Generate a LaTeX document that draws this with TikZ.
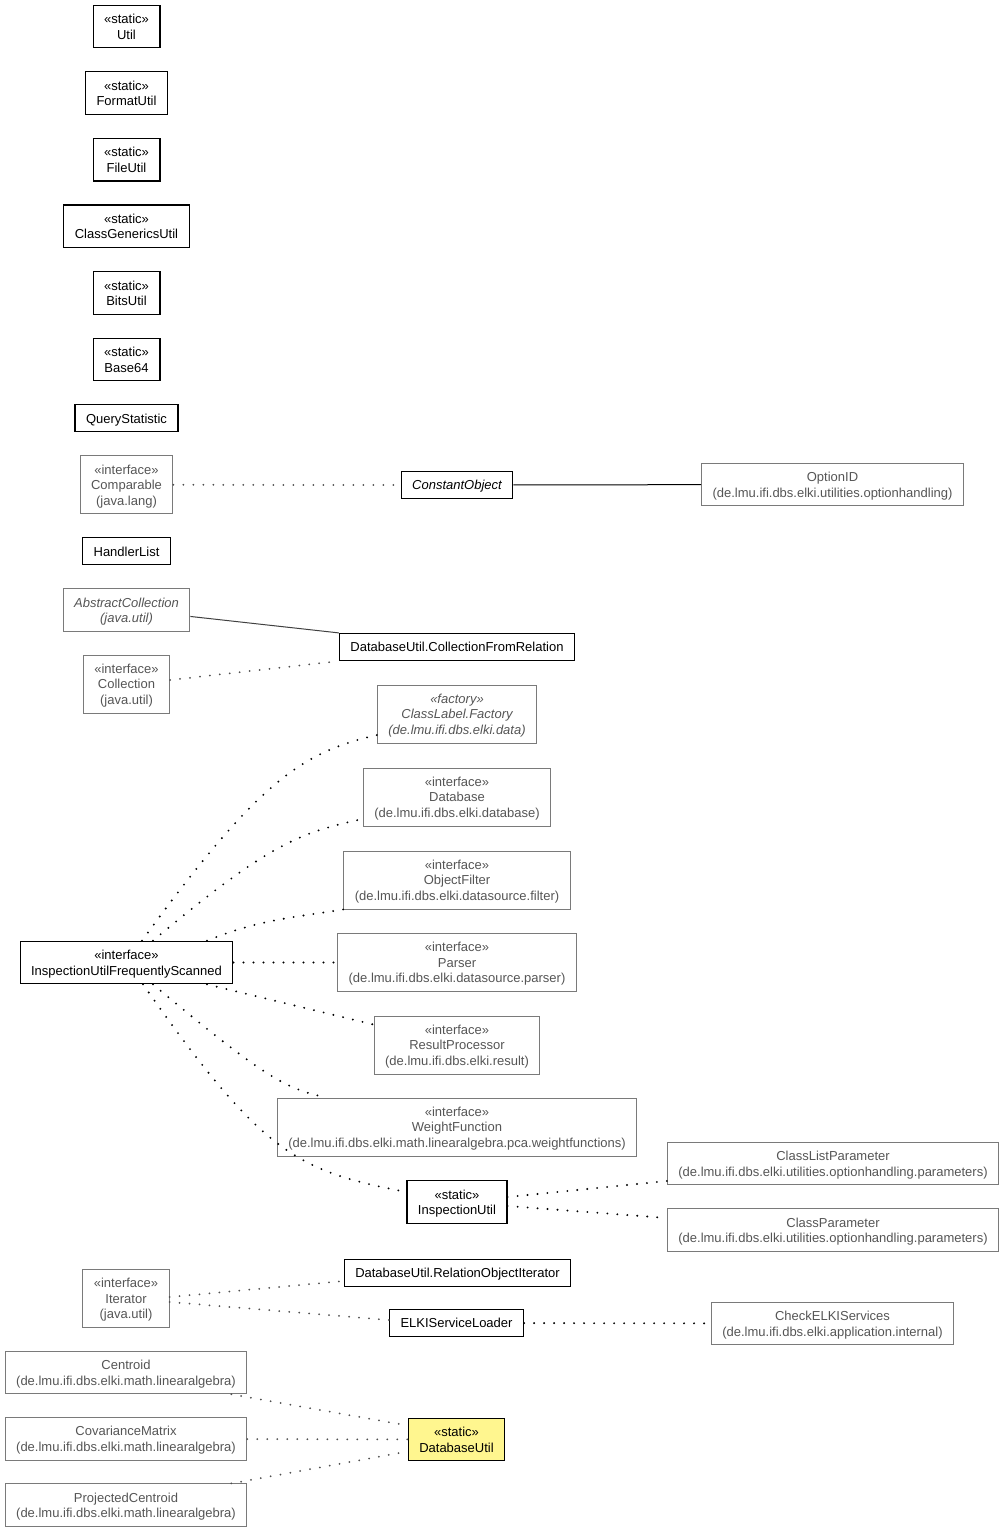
\documentclass[tikz,border=0pt]{standalone}
\usepackage{fontspec}
\setmainfont{Liberation Sans}
\usepackage{xcolor}
\usepackage{tikz}
\usetikzlibrary{positioning}

\definecolor{extline}{HTML}{7A7A7A}
\definecolor{exttext}{HTML}{555555}
\definecolor{selffill}{HTML}{FFF68F}
\newcommand{\umlfont}{\fontsize{13}{15.5}\selectfont\setbox\strutbox\hbox{\vrule height 12.6pt depth 2.9pt width 0pt}}
\newcommand{\uml}[1]{\begin{tabular}{@{}c@{}}#1\end{tabular}}

\begin{document}
\begin{tikzpicture}[
    x=1pt, y=-1pt,
    node distance=22.9pt,
    cls/.style={rectangle, draw=black, line width=1.2pt, inner xsep=11pt, inner ysep=5.75pt, font=\umlfont},
    ext/.style={cls, draw=extline, line width=0.9pt, text=exttext},
    self/.style={cls, fill=selffill},
    ital/.style={font=\umlfont\itshape},
    dep/.style={draw=extline!65!black, line width=2pt, line cap=round, dash pattern=on 0pt off 10pt},
    use/.style={draw=black, line width=2.1pt, line cap=round, dash pattern=on 0pt off 10pt},
    assoc/.style={draw=black, line width=1pt},
    gen/.style={draw=black!75, line width=1pt},
]
\useasboundingbox (0,0) rectangle (1005,1533);

\node[cls] (util) at (126.5,26.5) {\uml{«static»\\Util}};
\node[cls, below=of util] (formatutil) {\uml{«static»\\FormatUtil}};
\node[cls, below=of formatutil] (fileutil) {\uml{«static»\\FileUtil}};
\node[cls, below=of fileutil] (classgenerics) {\uml{«static»\\ClassGenericsUtil}};
\node[cls, below=of classgenerics] (bitsutil) {\uml{«static»\\BitsUtil}};
\node[cls, below=of bitsutil] (base64) {\uml{«static»\\Base64}};
\node[cls, below=of base64] (querystat) {\uml{QueryStatistic}};
\node[ext, below=of querystat] (comparable) {\uml{«interface»\\Comparable\\(java.lang)}};
\node[cls, below=of comparable] (handlerlist) {\uml{HandlerList}};
\node[ext, ital, below=of handlerlist] (abstractcoll) {\uml{AbstractCollection\\(java.util)}};
\node[ext, below=of abstractcoll] (collection) {\uml{«interface»\\Collection\\(java.util)}};
\node[cls] (iufs) at (126.5,962.5) {\uml{«interface»\\InspectionUtilFrequentlyScanned}};
\node[ext] (iterator) at (126,1298.5) {\uml{«interface»\\Iterator\\(java.util)}};
\node[ext, below=of iterator] (centroid) {\uml{Centroid\\(de.lmu.ifi.dbs.elki.math.linearalgebra)}};
\node[ext, below=of centroid] (covmatrix) {\uml{CovarianceMatrix\\(de.lmu.ifi.dbs.elki.math.linearalgebra)}};
\node[ext, below=of covmatrix] (projcentroid) {\uml{ProjectedCentroid\\(de.lmu.ifi.dbs.elki.math.linearalgebra)}};

\node[cls, ital] (constobj) at (457,485) {\uml{ConstantObject}};
\node[cls] (collfromrel) at (457,647) {\uml{DatabaseUtil.CollectionFromRelation}};
\node[ext, ital] (labelfactory) at (457,714) {\uml{«factory»\\ClassLabel.Factory\\(de.lmu.ifi.dbs.elki.data)}};
\node[ext] (database) at (457,797) {\uml{«interface»\\Database\\(de.lmu.ifi.dbs.elki.database)}};
\node[ext] (objfilter) at (457,880) {\uml{«interface»\\ObjectFilter\\(de.lmu.ifi.dbs.elki.datasource.filter)}};
\node[ext] (parser) at (457,962.5) {\uml{«interface»\\Parser\\(de.lmu.ifi.dbs.elki.datasource.parser)}};
\node[ext] (resultproc) at (457,1045) {\uml{«interface»\\ResultProcessor\\(de.lmu.ifi.dbs.elki.result)}};
\node[ext] (weightfn) at (457,1127) {\uml{«interface»\\WeightFunction\\(de.lmu.ifi.dbs.elki.math.linearalgebra.pca.weightfunctions)}};
\node[cls] (inspectutil) at (457,1202) {\uml{«static»\\InspectionUtil}};
\node[cls] (relobjiter) at (457.5,1273) {\uml{DatabaseUtil.RelationObjectIterator}};
\node[cls] (serviceloader) at (456.5,1323) {\uml{ELKIServiceLoader}};
\node[self] (dbutil) at (456.5,1439.5) {\uml{«static»\\DatabaseUtil}};

\node[ext] (optionid) at (832.5,484.5) {\uml{OptionID\\(de.lmu.ifi.dbs.elki.utilities.optionhandling)}};
\node[ext] (classlistparam) at (833,1163.5) {\uml{ClassListParameter\\(de.lmu.ifi.dbs.elki.utilities.optionhandling.parameters)}};
\node[ext] (classparam) at (833,1230) {\uml{ClassParameter\\(de.lmu.ifi.dbs.elki.utilities.optionhandling.parameters)}};
\node[ext] (checkservices) at (832.5,1323.5) {\uml{CheckELKIServices\\(de.lmu.ifi.dbs.elki.application.internal)}};

\draw[dep] (comparable) -- (constobj);
\draw[assoc] (constobj) -- (optionid);
\draw[gen] ([yshift=-6.5pt]abstractcoll.east) -- (collfromrel.north west);
\draw[dep] ([yshift=4pt]collection.east) -- (collfromrel.south west);

\draw[use] ([xshift=15.5pt]iufs.north) .. controls +(54:200pt) and +(193:75pt) .. ([yshift=-21pt]labelfactory.west);
\draw[use] ([xshift=26.5pt]iufs.north) .. controls +(40:150pt) and +(192:65pt) .. ([yshift=-22pt]database.west);
\draw[use] ([xshift=80.5pt]iufs.north) to[out=22, in=189] (objfilter.south west);
\draw[use] (iufs) -- (parser);
\draw[use] ([xshift=80.5pt]iufs.south) -- ([yshift=-9pt]resultproc.north west);
\draw[use] ([xshift=26.5pt]iufs.south) .. controls +(-40:150pt) and +(168:40pt) .. ([xshift=50pt]weightfn.north west);
\draw[use] ([xshift=16.5pt]iufs.south) .. controls +(-55:210pt) and +(169:110pt) .. ([yshift=10pt]inspectutil.west);

\draw[use] ([yshift=5pt]inspectutil.east) -- ([yshift=-17.5pt]classlistparam.west);
\draw[use] ([yshift=-4pt]inspectutil.east) -- ([yshift=12pt]classparam.west);

\draw[dep] ([yshift=1.5pt]iterator.east) -- ([yshift=-8pt]relobjiter.west);
\draw[dep] ([yshift=-3.5pt]iterator.east) -- ([yshift=3pt]serviceloader.west);
\draw[use] (serviceloader) -- (checkservices);

\draw[dep] ([xshift=-16pt]centroid.south east) -- ([yshift=14pt]dbutil.west);
\draw[dep] (covmatrix) -- (dbutil);
\draw[dep] ([xshift=-16pt]projcentroid.north east) -- ([yshift=-12pt]dbutil.west);

\end{tikzpicture}
\end{document}
